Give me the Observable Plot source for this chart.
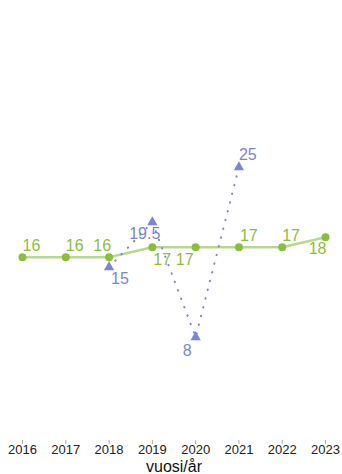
<!DOCTYPE html>
<html>
<head>
<meta charset="utf-8">
<script src="https://cdn.jsdelivr.net/npm/d3@7"></script>
<script src="https://cdn.jsdelivr.net/npm/@observablehq/plot@0.6"></script>
<style>
  html, body { margin: 0; padding: 0; background: #fff; }
</style>
</head>
<body>
<div id="chart"></div>
<script>
// ---- data ----
const years = [2016, 2017, 2018, 2019, 2020, 2021, 2022, 2023];
const greenValues = [16, 16, 16, 17, 17, 17, 17, 18];
const blueYears = [2018, 2019, 2020, 2021];
const blueValues = [15, 19.5, 8, 25];
const xTitle = "vuosi/år";

// ---- style ----
const GREEN_LINE = "#b7d98e";
const GREEN = "#8bbd3e";
const BLUE = "#7b84d6";

const green = years.map((year, i) => ({year, value: greenValues[i]}));
const blue = blueYears.map((year, i) => ({year, value: blueValues[i]}));

// label placement: [quadrant, dx, dy]
const greenPlace = {2016: ["ne", 0, -6], 2017: ["ne", 0, -6], 2018: ["nw", 2, -6], 2019: ["se", 1, 6],
  2020: ["sw", -2, 6], 2021: ["ne", 1, -6], 2022: ["ne", 0, -6], 2023: ["sw", 1, 5]};
const bluePlace = {2018: ["se", 2, 5], 2019: ["sw", 8, 5], 2020: ["sw", -4, 7], 2021: ["ne", 0, -7]};

function labels(data, place, color) {
  return data.map(d => {
    const [q, dx, dy] = place[d.year];
    return Plot.text([d], {
      x: "year", y: "value", text: d => String(d.value),
      textAnchor: q.includes("e") ? "start" : "end",
      lineAnchor: q.startsWith("n") ? "bottom" : "top",
      dx, dy, fill: color, fontSize: 16
    });
  });
}

const chart = Plot.plot({
  width: 342,
  height: 474,
  marginLeft: 22,
  marginRight: 17,
  marginTop: 0,
  marginBottom: 34,
  style: {fontFamily: "'Liberation Sans', Arial, Helvetica, sans-serif", background: "#fff"},
  x: {type: "linear", domain: [2016, 2023], axis: null},
  y: {type: "linear", domain: [0, 30], range: [416.7, 116.7], axis: null},
  marks: [
    Plot.axisX({ticks: years, tickFormat: d => String(d), tickSize: 4, tickPadding: 0,
      stroke: "#aaa", fill: "#222", fontSize: 13, label: null}),
    Plot.line(green, {x: "year", y: "value", stroke: GREEN_LINE, strokeWidth: 2.5}),
    Plot.line(blue, {x: "year", y: "value", stroke: BLUE, strokeWidth: 2,
      strokeDasharray: "0.5,8.5", strokeLinecap: "round"}),
    Plot.dot(green, {x: "year", y: "value", r: 4, fill: GREEN}),
    Plot.dot(blue, {x: "year", y: "value", r: 3.8, symbol: "triangle", fill: BLUE}),
    ...labels(green, greenPlace, GREEN),
    ...labels(blue, bluePlace, BLUE),
    Plot.text([xTitle], {frameAnchor: "bottom", lineAnchor: "bottom", dy: 31, fontSize: 16, fill: "#111"})
  ]
});
document.getElementById("chart").appendChild(chart);
</script>
</body>
</html>
